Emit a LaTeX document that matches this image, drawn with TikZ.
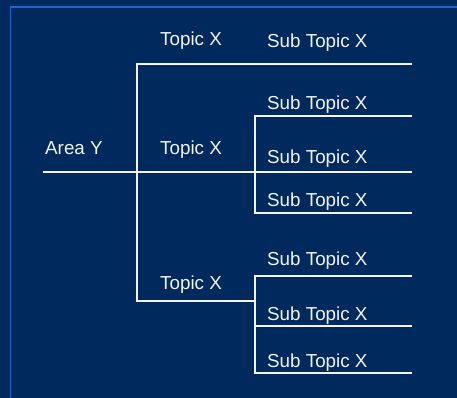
\documentclass[tikz,border=0pt]{standalone}
\usepackage{fontspec}
\setmainfont{Liberation Sans}
\definecolor{navy}{RGB}{0,41,94}
\definecolor{rimblue}{RGB}{26,100,204}
\definecolor{chalk}{RGB}{244,244,244}
\begin{document}
\begin{tikzpicture}[x=1pt,y=-1pt,
  branch/.style={chalk,line width=1.7pt},
  lbl/.style={chalk,anchor=base west,inner sep=0pt,font=\fontsize{18.8}{22}\selectfont}]
\fill[navy] (0,0) rectangle (457,398);
\useasboundingbox (0,0) rectangle (457,398);
\begin{scope}
\clip (0,0) rectangle (457,398);
\draw[rimblue,line width=1.6pt] (10.5,7) rectangle (457.6,410);
\end{scope}
\coordinate (area) at (43,172);
\coordinate (fork) at (137,172);
\coordinate (fork top) at (137,64);
\coordinate (fork bot) at (137,301);
\coordinate (mid top) at (255,116);
\coordinate (mid fork) at (255,172);
\coordinate (mid bot) at (255,213);
\coordinate (low top) at (255,276);
\coordinate (low fork) at (255,301);
\coordinate (low mid) at (255,326);
\coordinate (low bot) at (255,373);
\coordinate (leaf a) at (412,64);
\coordinate (leaf b) at (412,116);
\coordinate (leaf c) at (412,172);
\coordinate (leaf d) at (412,213);
\coordinate (leaf e) at (412,276);
\coordinate (leaf f) at (412,326);
\coordinate (leaf g) at (412,373);
\draw[branch] (leaf a) -- (fork top) -- (fork bot) -- (low fork);
\draw[branch] (area) -- (leaf c);
\draw[branch] (leaf b) -- (mid top) -- (mid bot) -- (leaf d);
\draw[branch] (leaf e) -- (low top) -- (low bot) -- (leaf g);
\draw[branch] (low mid) -- (leaf f);
\node[lbl] (area lbl) at (45,154) {Area Y};
\node[lbl] (topic a) at (160,46) {Topic X};
\node[lbl] (topic b) at (160,154) {Topic X};
\node[lbl] (topic c) at (160,289) {Topic X};
\node[lbl] (sub a) at (267,48) {Sub Topic X};
\node[lbl] (sub b) at (267,110) {Sub Topic X};
\node[lbl] (sub c) at (267,164) {Sub Topic X};
\node[lbl] (sub d) at (267,206) {Sub Topic X};
\node[lbl] (sub e) at (267,265) {Sub Topic X};
\node[lbl] (sub f) at (267,320) {Sub Topic X};
\node[lbl] (sub g) at (267,367) {Sub Topic X};
\end{tikzpicture}
\end{document}
